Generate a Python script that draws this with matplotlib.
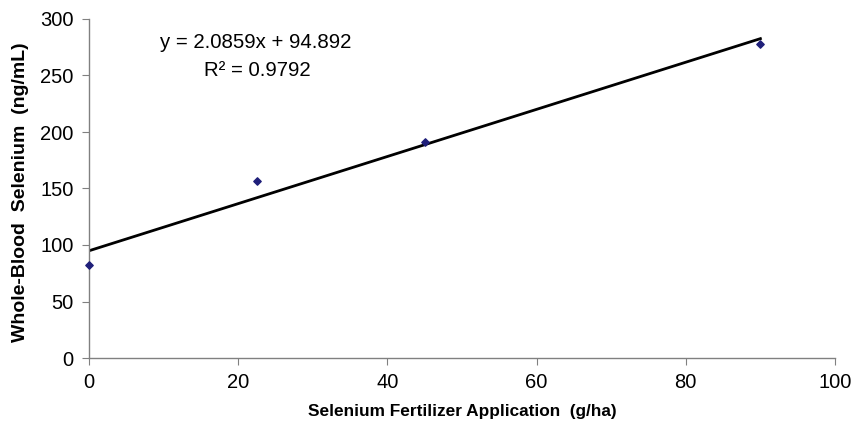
import numpy as np
import matplotlib.pyplot as plt

plt.rcParams['font.family'] = ['Liberation Sans', 'DejaVu Sans']

# data
fertilizer = [0, 22.5, 45, 90]
blood_se = [82, 157, 191, 278]
slope = 2.0859
intercept = 94.892
r2 = 0.9792

fig = plt.figure(figsize=(8.66, 4.23), dpi=100)
ax = fig.add_axes([89 / 866, 1 - 358 / 423, (835 - 89) / 866, (358 - 19) / 423])

xs = np.array([min(fertilizer), max(fertilizer)])
ax.plot(xs, slope * xs + intercept, c='black', lw=2, zorder=2)
ax.scatter(fertilizer, blood_se, marker='D', s=14, c='#1f1f7a', zorder=3, clip_on=False)

ax.set_xlim(0, 100)
ax.set_ylim(0, 300)
ax.set_xticks(range(0, 101, 20))
ax.set_yticks(range(0, 301, 50))
for s in ['top', 'right']:
    ax.spines[s].set_visible(False)
for s in ['left', 'bottom']:
    ax.spines[s].set_color('#808080')
    ax.spines[s].set_linewidth(1)
ax.tick_params(direction='out', length=5, color='#808080', labelsize=14.5, pad=6)

ax.set_xlabel('Selenium Fertilizer Application  (g/ha)', fontsize=12.4, fontweight='bold')
ax.xaxis.set_label_coords(0.5, -0.135)
ax.set_ylabel('Whole-Blood  Selenium  (ng/mL)', fontsize=14, fontweight='bold')
ax.yaxis.set_label_coords(-0.08, 0.49)

fig.text(256 / 866, 1 - 42 / 423, f'y = {slope}x + {intercept}', fontsize=14.7, ha='center', va='center')
fig.text(257 / 866, 1 - 71 / 423, f'R² = {r2}', fontsize=14.7, ha='center', va='center')

fig.savefig('out.png', dpi=100)
